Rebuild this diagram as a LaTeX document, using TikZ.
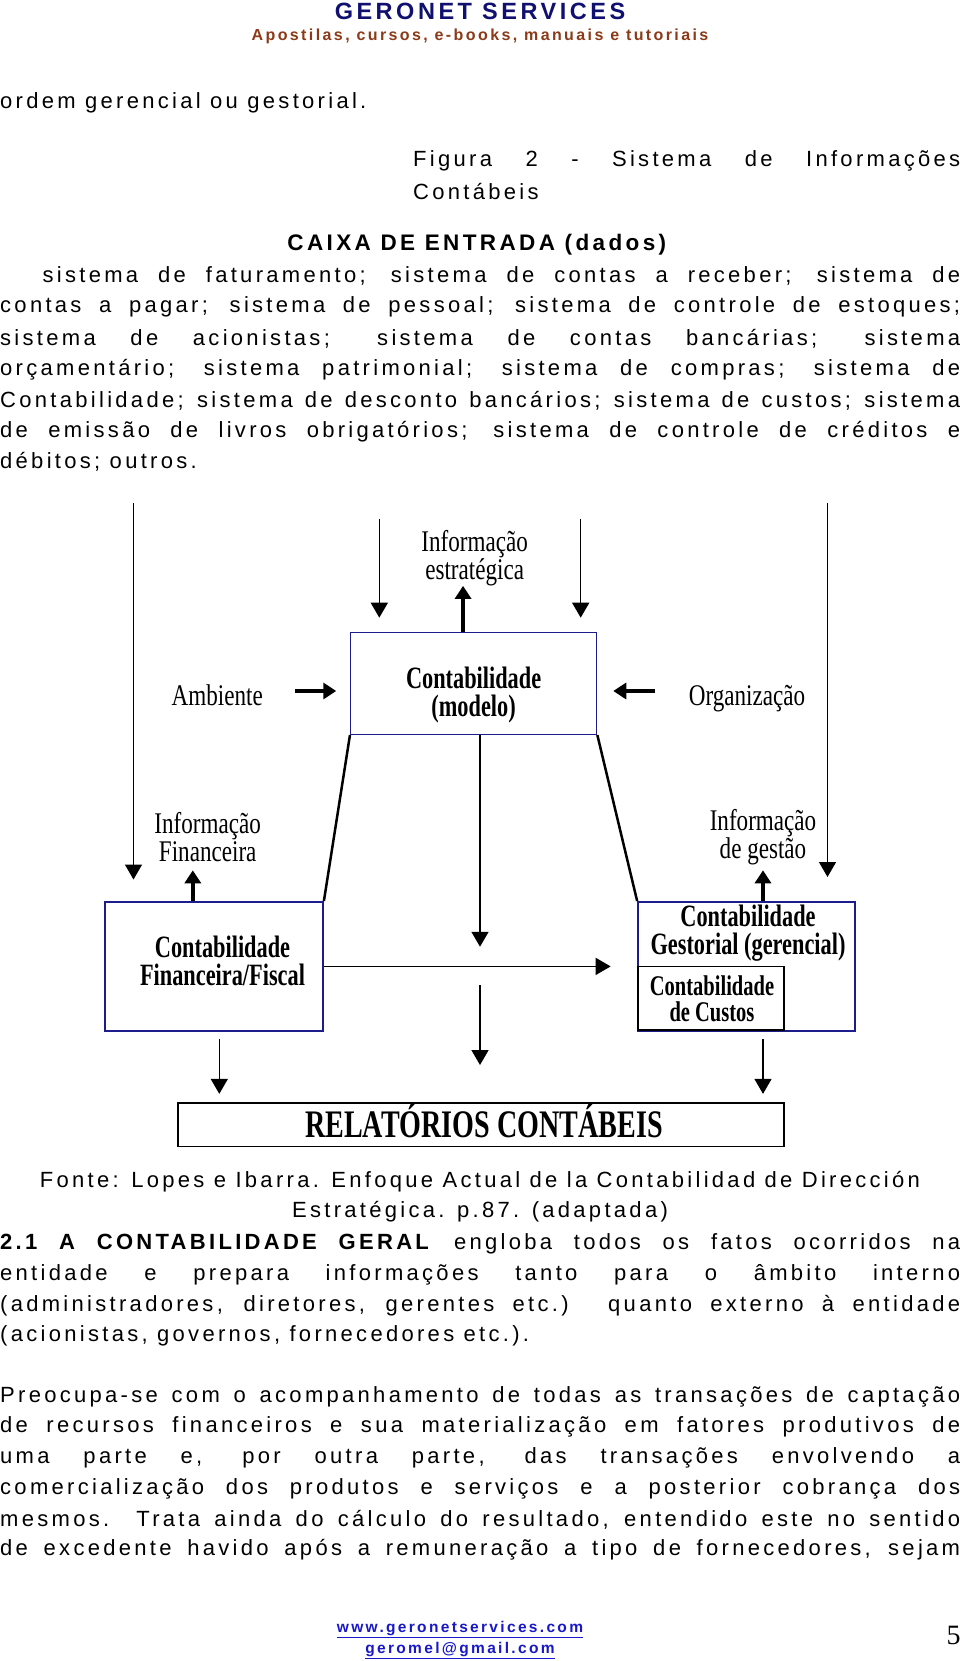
\documentclass[tikz,border=0pt]{standalone}
\usepackage{fontspec}
\setmainfont{Liberation Sans}[LetterSpace=15]
\newfontfamily\diagfont{Liberation Serif}[FakeStretch=0.77]
\newfontfamily\boxfont{Liberation Serif}[FakeStretch=0.72]
\newfontfamily\pagenofont{Liberation Serif}
\usetikzlibrary{arrows.meta,positioning}

\definecolor{headnavy}{RGB}{16,16,112}
\definecolor{headrust}{RGB}{140,58,24}
\definecolor{boxnavy}{RGB}{28,28,140}
\definecolor{linkblue}{RGB}{24,24,200}

\newcommand{\jline}[2]{\makebox[#1pt][s]{#2}}

\begin{document}
\begin{tikzpicture}[x=1pt, y=-1pt,
  txt/.style={anchor=west, inner sep=0pt, font=\fontsize{22}{26}\selectfont},
  ctxt/.style={txt, anchor=center},
  lbl/.style={inner sep=0pt, align=center, font=\diagfont\fontsize{30}{28.5}\selectfont},
  blbl/.style={lbl, font=\boxfont\bfseries\fontsize{31}{28}\selectfont},
  navybox/.style={draw=boxnavy, line width=1.5pt, inner sep=0pt},
  thinarrow/.style={line width=1.5pt, -{Triangle[length=15pt,width=17pt]}},
  fatarrow/.style={line width=4.5pt, -{Triangle[length=13pt,width=16pt]}},
  slant/.style={line width=2.5pt}]

  \useasboundingbox (0,0) rectangle (960,1661);
  \fill[white] (0,0) rectangle (960,1661);

  \node[ctxt, font=\bfseries\fontsize{23.5}{26}\selectfont, text=headnavy] (brand) at (480,11) {GERONET SERVICES};
  \node[ctxt, font=\bfseries\fontsize{16}{20}\selectfont, text=headrust] (tagline) at (480,36.5) {Apostilas, cursos, e-books, manuais e tutoriais};

  \node[txt] (ordem) at (0,102.8) {ordem gerencial ou gestorial.};
  \node[txt] (fig1) at (413,161) {\jline{547}{Figura 2 - Sistema de Informações}};
  \node[txt] (fig2) at (413,191.8) {Contábeis};

  \node[ctxt, font=\bfseries\fontsize{22.5}{26}\selectfont] (caixa) at (476.8,244.8) {CAIXA DE ENTRADA (dados)};
  \node[txt] (cx1) at (42.4,275.5) {\jline{917.6}{sistema de faturamento; sistema de contas a receber; sistema de}};
  \node[txt] (cx2) at (0,307.3) {\jline{960}{contas a pagar; sistema de pessoal; sistema de controle de estoques;}};
  \node[txt] (cx3) at (0,339) {\jline{960}{sistema de acionistas; sistema de contas bancárias; sistema}};
  \node[txt] (cx4) at (0,369.8) {\jline{960}{orçamentário; sistema patrimonial; sistema de compras; sistema de}};
  \node[txt] (cx5) at (0,400.5) {\jline{960}{Contabilidade; sistema de desconto bancários; sistema de custos; sistema}};
  \node[txt] (cx6) at (0,431.3) {\jline{960}{de emissão de livros obrigatórios; sistema de controle de créditos e}};
  \node[txt] (cx7) at (0,462) {débitos; outros.};

  \coordinate (lefttop) at (133.5,503);
  \coordinate (leftend) at (133.5,879.5);
  \coordinate (righttop) at (827.5,503);
  \coordinate (rightend) at (827.5,877);
  \coordinate (intop1) at (379.3,519);
  \coordinate (inend1) at (379.3,617.7);
  \coordinate (intop2) at (580.7,519);
  \coordinate (inend2) at (580.7,617.7);

  \node[navybox, minimum width=245.9pt, minimum height=101.7pt] (modelo) at (473.65,683.45) {};
  \node[blbl] (modelotxt) at (473.6,695) {Contabilidade\\(modelo)};
  \node[lbl] (infoestr) at (474.7,558) {Informação\\estratégica};
  \node[lbl] (ambiente) at (217.2,695) {Ambiente};
  \node[lbl] (organiz) at (747,699) {Organização};

  \node[navybox, minimum width=218.3pt, minimum height=129.3pt] (financ) at (214,966.4) {};
  \node[blbl] (financtxt) at (222.5,960.5) {Contabilidade\\Financeira/Fiscal};
  \node[lbl] (infofin) at (207.7,837) {Informação\\Financeira};

  \node[navybox, minimum width=217.2pt, minimum height=129.3pt] (gestor) at (746.5,966.4) {};
  \node[blbl] (gestortxt) at (748,933.5) {Contabilidade\\Gestorial (gerencial)};
  \node[draw, line width=1.5pt, inner sep=0pt, minimum width=146.2pt, minimum height=63.6pt] (custos) at (711,998.2) {};
  \node[blbl, font=\boxfont\bfseries\fontsize{28.5}{26.6}\selectfont] (custostxt) at (712,998.7) {Contabilidade\\de Custos};
  \node[lbl] (infogest) at (763,837) {Informação\\de gestão};

  \node[draw, line width=1.5pt, inner sep=0pt, minimum width=606pt, minimum height=43.5pt] (relat) at (481,1124.75) {};
  \node[inner sep=0pt, font=\boxfont\bfseries\fontsize{39}{40}\selectfont] (relattxt) at (484,1120.5) {RELATÓRIOS CONTÁBEIS};

  \coordinate (midtop) at (480,985.4);
  \coordinate (midend) at (480,1065);

  \draw[thinarrow] (lefttop) -- (leftend);
  \draw[thinarrow] (righttop) -- (rightend);
  \draw[thinarrow] (intop1) -- (inend1);
  \draw[thinarrow] (intop2) -- (inend2);
  \draw[fatarrow] ([xshift=-10.6pt]modelo.north) -- ++(0,-46);
  \draw[fatarrow, shorten <=32pt, shorten >=13.7pt] ([yshift=4pt]ambiente.east) -- ([yshift=4pt]ambiente.east -| modelo.west);
  \draw[fatarrow, shorten <=33.6pt, shorten >=15.9pt] ([yshift=8pt]organiz.west) -- ([yshift=8pt]organiz.west -| modelo.east);

  \draw[slant] (modelo.south west) -- (financ.north east);
  \draw[slant] (modelo.south east) -- (gestor.north west);
  \draw[thinarrow] ([xshift=6.35pt]modelo.south) -- ++(0,211.7);
  \draw[thinarrow] (financ.east) -- ([xshift=-26.5pt]gestor.west);
  \draw[thinarrow] (midtop) -- (midend);

  \draw[fatarrow] ([xshift=-21.2pt]financ.north) -- ++(0,-30.7);
  \draw[fatarrow] ([xshift=16.5pt]gestor.north) -- ++(0,-30.7);
  \draw[thinarrow, shorten <=7.4pt, shorten >=8.4pt] ([xshift=5.3pt]financ.south) -- ([xshift=5.3pt]financ.south |- relat.north);
  \draw[thinarrow, shorten <=7.4pt, shorten >=8.4pt] ([xshift=16.5pt]gestor.south) -- ([xshift=16.5pt]gestor.south |- relat.north);

  \node[ctxt] (fonte1) at (480,1181.5) {Fonte: Lopes e Ibarra. Enfoque Actual de la Contabilidad de Dirección};
  \node[ctxt] (fonte2) at (480,1212) {Estratégica. p.87. (adaptada)};

  \node[txt] (gr1) at (0,1244) {\jline{960}{\textbf{2.1 A CONTABILIDADE GERAL} engloba todos os fatos ocorridos na}};
  \node[txt] (gr2) at (0,1274.7) {\jline{960}{entidade e prepara informações tanto para o âmbito interno}};
  \node[txt] (gr3) at (0,1305.5) {\jline{960}{(administradores, diretores, gerentes etc.) quanto externo à entidade}};
  \node[txt] (gr4) at (0,1336) {(acionistas, governos, fornecedores etc.).};

  \node[txt] (pr1) at (0,1396.6) {\jline{960}{Preocupa-se com o acompanhamento de todas as transações de captação}};
  \node[txt] (pr2) at (0,1427.3) {\jline{960}{de recursos financeiros e sua materialização em fatores produtivos de}};
  \node[txt] (pr3) at (0,1458) {\jline{960}{uma parte e, por outra parte, das transações envolvendo a}};
  \node[txt] (pr4) at (0,1488.7) {\jline{960}{comercialização dos produtos e serviços e a posterior cobrança dos}};
  \node[txt] (pr5) at (0,1519.5) {\jline{960}{mesmos. Trata ainda do cálculo do resultado, entendido este no sentido}};
  \node[txt] (pr6) at (0,1550.2) {\jline{960}{de excedente havido após a remuneração a tipo de fornecedores, sejam}};

  \node[ctxt, font=\bfseries\fontsize{15.5}{20}\selectfont, text=linkblue] (site) at (460,1629.7) {\underline{www.geronetservices.com}};
  \node[ctxt, font=\bfseries\fontsize{15.5}{20}\selectfont, text=linkblue] (mail) at (460,1651) {\underline{geromel@gmail.com}};
  \node[ctxt, font=\pagenofont\fontsize{28}{30}\selectfont] (pageno) at (953.6,1635) {5};

\end{tikzpicture}
\end{document}
